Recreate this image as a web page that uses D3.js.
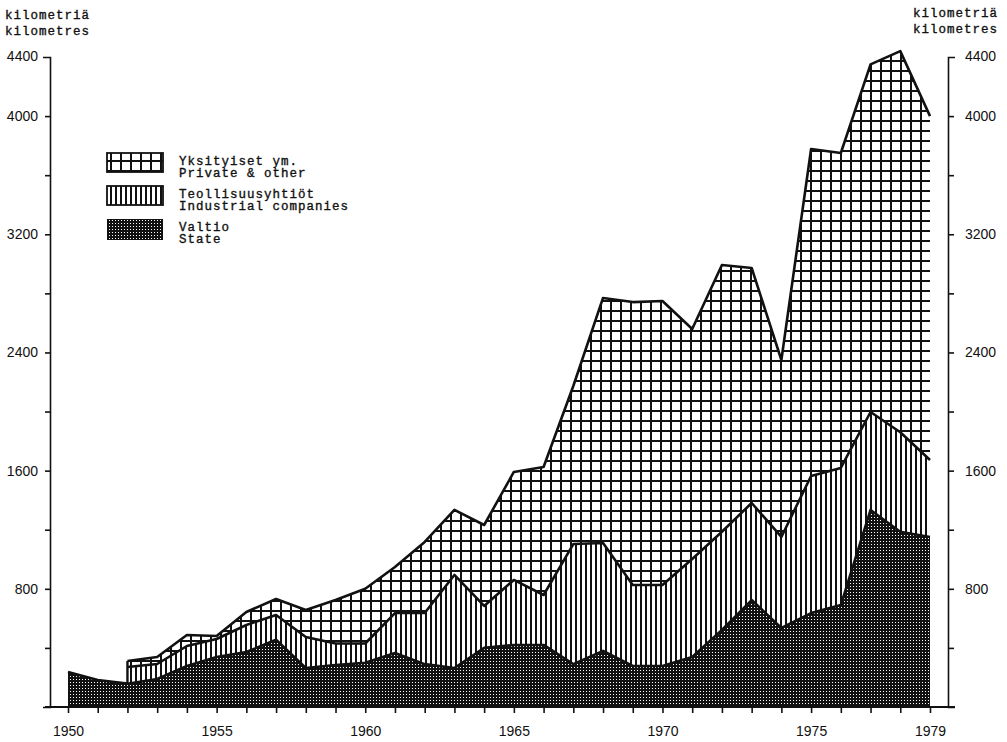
<!DOCTYPE html>
<html>
<head>
<meta charset="utf-8">
<script src="https://cdn.jsdelivr.net/npm/d3@7"></script>
<style>
  html, body { margin: 0; padding: 0; background: #fff; }
  svg { display: block; }
  .mono { font-family: "Liberation Mono", "Courier New", monospace; font-size: 12.5px; letter-spacing: 1px; fill: #111; stroke: #111; stroke-width: 0.35px; }
  .tick text { font-family: "Liberation Sans", Arial, sans-serif; font-size: 14px; fill: #111; }
</style>
</head>
<body>
<svg id="chart" width="1007" height="742"></svg>
<script>
// ---- data (kilometres) ----
const years = [1950,1951,1952,1953,1954,1955,1956,1957,1958,1959,
               1960,1961,1962,1963,1964,1965,1966,1967,1968,1969,
               1970,1971,1972,1973,1974,1975,1976,1977,1978,1979];
const stateKm = [237,183,158,190,278,338,372,455,264,284,
                 300,366,290,264,400,420,420,290,380,278,
                 278,338,521,724,535,636,690,1334,1186,1151];
const industrialKm = [null,null,113,101,135,122,183,168,210,146,
                      130,270,346,630,284,440,338,813,730,548,
                      548,664,665,657,616,928,928,663,674,521];
const privateKm = [null,null,40,47,74,21,88,108,183,294,
                   370,312,481,440,548,731,867,1070,1659,1915,
                   1922,1557,1806,1591,1198,2213,2132,2353,2580,2328];
const xTickLabels = [1950,1955,1960,1965,1970,1975,1979];
const yTicks = [400,800,1200,1600,2000,2400,2800,3200,3600,4000];
const yTickLabels = [800,1600,2400,3200,4000,4400];
const yMax = 4400;
const legendItems = [
  {key:"private", l1:"Yksityiset ym.", l2:"Private & other"},
  {key:"industrial", l1:"Teollisuusyhtiöt", l2:"Industrial companies"},
  {key:"state", l1:"Valtio", l2:"State"}
];
const unitLines = ["kilometriä","kilometres"];

// ---- layout ----
const svg = d3.select("#chart");
const leftAxisX = 50, rightAxisX = 948, baseY = 707, topY = 57;
const x = d3.scaleLinear().domain([1950,1979]).range([68,930]);
const y = d3.scaleLinear().domain([0,yMax]).range([baseY,topY]);

// ---- patterns ----
const defs = svg.append("defs");
const pGrid = defs.append("pattern").attr("id","pGrid").attr("patternUnits","userSpaceOnUse")
  .attr("width",10).attr("height",10).attr("x",0).attr("y",0);
pGrid.append("rect").attr("width",10).attr("height",10).attr("fill","#fff");
pGrid.append("rect").attr("x",0).attr("y",0).attr("width",2).attr("height",10).attr("fill","#111");
pGrid.append("rect").attr("x",0).attr("y",0).attr("width",10).attr("height",2).attr("fill","#111");

const pStripe = defs.append("pattern").attr("id","pStripe").attr("patternUnits","userSpaceOnUse")
  .attr("width",5).attr("height",10);
pStripe.append("rect").attr("width",5).attr("height",10).attr("fill","#fff");
pStripe.append("rect").attr("x",0).attr("width",2).attr("height",10).attr("fill","#111");

const pDot = defs.append("pattern").attr("id","pDot").attr("patternUnits","userSpaceOnUse")
  .attr("width",3).attr("height",3);
pDot.append("rect").attr("width",3).attr("height",3).attr("fill","#111");
pDot.append("rect").attr("x",1).attr("y",1).attr("width",1).attr("height",1).attr("fill","#fff");

const fills = {state:"url(#pDot)", industrial:"url(#pStripe)", private:"url(#pGrid)"};

// ---- stack ----
const rows = years.map((yr,i)=>({year:yr, state:stateKm[i], industrial:industrialKm[i]||0, private:privateKm[i]||0, i}));
const keys = ["state","industrial","private"];
const raw = {state:stateKm, industrial:industrialKm, private:privateKm};
const stack = d3.stack().keys(keys)(rows);

const area = key => d3.area()
  .defined(d => raw[key][d.data.i] != null)
  .x(d => x(d.data.year)).y0(d => y(d[0])).y1(d => y(d[1]));

const gAreas = svg.append("g");
stack.forEach(layer => {
  gAreas.append("path").datum(layer).attr("d", area(layer.key)).attr("fill", fills[layer.key]);
});

// outline lines on top of each layer
const line = key => d3.line()
  .defined(d => raw[key][d.data.i] != null)
  .x(d => x(d.data.year)).y(d => y(d[1]));
stack.forEach(layer => {
  svg.append("path").datum(layer).attr("d", line(layer.key))
    .attr("fill","none").attr("stroke","#111").attr("stroke-width",2.6)
    .attr("stroke-linejoin","round");
});
// vertical edge where industrial & private series begin
const firstIdx = industrialKm.findIndex(v => v != null);
svg.append("line")
  .attr("x1", x(years[firstIdx])).attr("x2", x(years[firstIdx]))
  .attr("y1", y(stack[0][firstIdx][1])).attr("y2", y(stack[2][firstIdx][1]))
  .attr("stroke","#111").attr("stroke-width",2.4);

// ---- axes ----
function styleAxis(g){
  g.selectAll("path.domain").attr("stroke","#111").attr("stroke-width",1.6);
  g.selectAll(".tick line").attr("stroke","#111").attr("stroke-width",1.6);
}
const fmtY = d => yTickLabels.includes(d) ? d : "";
const yLeft = svg.append("g").attr("transform",`translate(${leftAxisX},0)`)
  .call(d3.axisLeft(y).tickValues(yTicks).tickSizeInner(5).tickSizeOuter(7).tickPadding(7).tickFormat(fmtY));
yLeft.append("text").attr("x",-12).attr("y",y(yMax)).attr("dy","0.32em")
  .attr("text-anchor","end")
  .style("font-family","'Liberation Sans', Arial, sans-serif").style("font-size","14px").attr("fill","#111").text(yMax);
styleAxis(yLeft);

const yRight = svg.append("g").attr("transform",`translate(${rightAxisX},0)`)
  .call(d3.axisRight(y).tickValues(yTicks).tickSizeInner(6).tickSizeOuter(7).tickPadding(11).tickFormat(fmtY));
yRight.append("text").attr("x",17).attr("y",y(yMax)).attr("dy","0.32em")
  .attr("text-anchor","start")
  .style("font-family","'Liberation Sans', Arial, sans-serif").style("font-size","14px").attr("fill","#111").text(yMax);
styleAxis(yRight);

const xAxis = svg.append("g").attr("transform",`translate(0,${baseY})`)
  .call(d3.axisBottom(x).tickValues(years).tickSizeInner(6).tickSizeOuter(0).tickPadding(13)
    .tickFormat(d => xTickLabels.includes(d) ? d : ""));
xAxis.select("path.domain").remove();
styleAxis(xAxis);
svg.append("line").attr("x1",leftAxisX-5).attr("x2",rightAxisX+7).attr("y1",baseY).attr("y2",baseY)
  .attr("stroke","#111").attr("stroke-width",1.8);

// ---- unit labels ----
unitLines.forEach((t,i)=>{
  svg.append("text").attr("class","mono").attr("x",5).attr("y",19+i*16).text(t);
  svg.append("text").attr("class","mono").attr("x",913).attr("y",17+i*16).text(t);
});

// ---- legend ----
const lg = svg.append("g");
legendItems.forEach((it,i)=>{
  const top = 153 + i*33;
  lg.append("rect").attr("x",107).attr("y",top).attr("width",56).attr("height",i===2?21:19)
    .attr("fill",fills[it.key]).attr("stroke", i===2?"none":"#111").attr("stroke-width",1.8);
  lg.append("text").attr("class","mono").attr("x",179).attr("y",top+12).text(it.l1);
  lg.append("text").attr("class","mono").attr("x",179).attr("y",top+24).text(it.l2);
});
</script>
</body>
</html>
